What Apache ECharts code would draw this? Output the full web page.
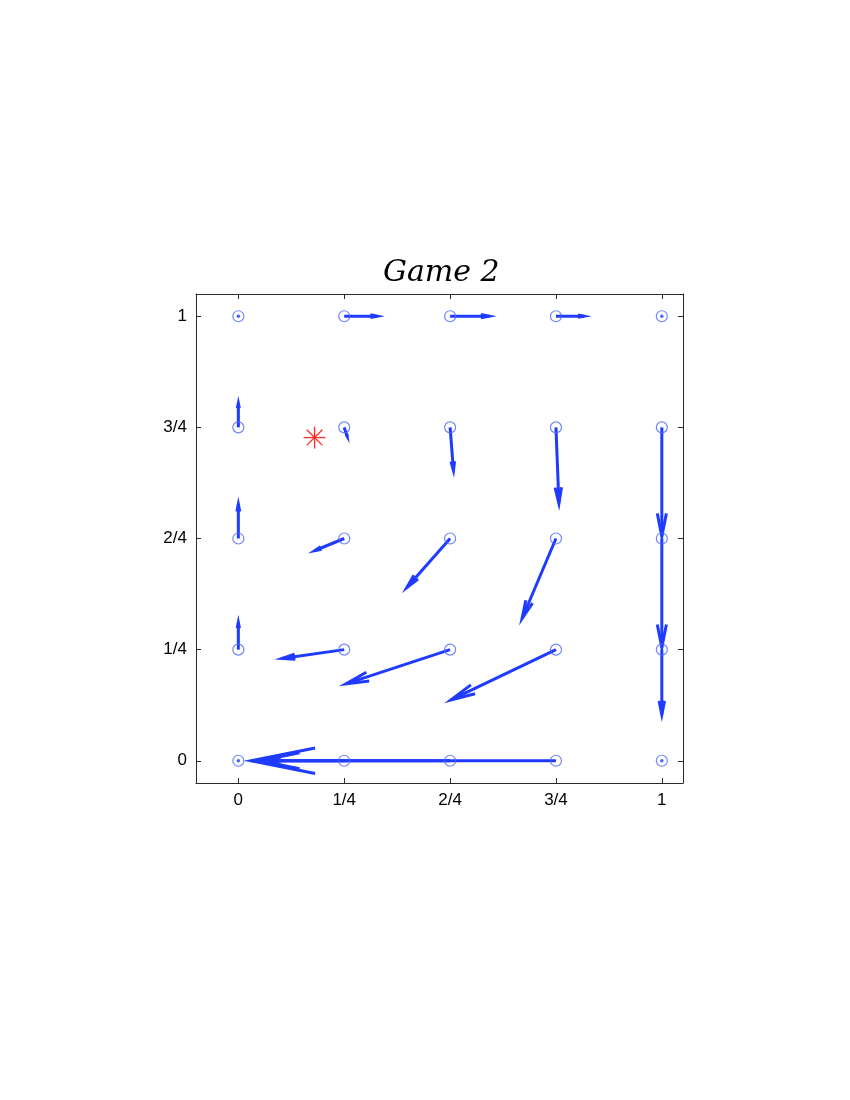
<!DOCTYPE html>
<html>
<head>
<meta charset="utf-8">
<script src="https://cdn.jsdelivr.net/npm/echarts@6/dist/echarts.min.js"></script>
<style>html,body{margin:0;padding:0;background:#fff;}#c{width:850px;height:1100px;}</style>
</head>
<body>
<div id="c"></div>
<script>
// ---- data ----
const tickValues = [0, 0.25, 0.5, 0.75, 1];
const tickLabels = ['0', '1/4', '2/4', '3/4', '1'];
// grid points (row by row, y = 0 .. 1)
const gridX = [0,0.25,0.5,0.75,1, 0,0.25,0.5,0.75,1, 0,0.25,0.5,0.75,1, 0,0.25,0.5,0.75,1, 0,0.25,0.5,0.75,1];
const gridY = [0,0,0,0,0, 0.25,0.25,0.25,0.25,0.25, 0.5,0.5,0.5,0.5,0.5, 0.75,0.75,0.75,0.75,0.75, 1,1,1,1,1];
// vector components at each grid point
const vecU = [0,-0.19,-0.45,-0.72,0,  0,-0.147,-0.246,-0.248,0,  0,-0.069,-0.102,-0.08,0,  0,0.007,0.008,0.007,0,  0,0.078,0.092,0.066,0];
const vecV = [0,0,0,0,0,  0.061,-0.02,-0.077,-0.113,-0.146,  0.077,-0.027,-0.11,-0.18,-0.245,  0.054,-0.02,-0.097,-0.171,-0.245,  0,0,0,0,0];
// equilibrium marker
const starX = [0.18];
const starY = [0.727];

// ---- build ----
const labelMap = {};
tickValues.forEach((v, i) => { labelMap[v] = tickLabels[i]; });

const pts = gridX.map((x, i) => [x, gridY[i]]);
const arrows = [];
const zeros = [];
gridX.forEach((x, i) => {
  if (vecU[i] === 0 && vecV[i] === 0) zeros.push([x, gridY[i]]);
  else arrows.push([x, gridY[i], vecU[i], vecV[i]]);
});
const stars = starX.map((x, i) => [x, starY[i]]);

const BLUE = '#1f3bff';
const CIRC = '#4a66ff';

const chart = echarts.init(document.getElementById('c'), null, {renderer: 'canvas'});

const axCommon = {
  type: 'value',
  splitLine: {show: false},
  axisLine: {show: true, onZero: false, lineStyle: {color: '#2a2a2a', width: 1}},
};

chart.setOption({
  animation: false,
  backgroundColor: '#fff',
  title: {
    text: 'Game 2',
    left: 378,
    top: 253,
    textStyle: {fontFamily: 'DejaVu Serif', fontStyle: 'italic', fontWeight: 'normal', fontSize: 30, color: '#000'}
  },
  grid: {left: 196, right: 167, top: 294, bottom: 317},
  xAxis: [
    Object.assign({}, axCommon, {
      position: 'bottom', min: -0.1, max: 1.05,
      axisTick: {show: true, inside: true, length: 5, customValues: tickValues, lineStyle: {color: '#2a2a2a'}},
      axisLabel: {customValues: tickValues, formatter: v => labelMap[v] !== undefined ? labelMap[v] : '', margin: 9,
        fontFamily: 'Liberation Sans', fontSize: 17, color: '#000'}
    }),
    Object.assign({}, axCommon, {
      position: 'top', min: -0.1, max: 1.05,
      axisTick: {show: true, inside: true, length: 5, customValues: tickValues, lineStyle: {color: '#2a2a2a'}},
      axisLabel: {show: false}
    })
  ],
  yAxis: [
    Object.assign({}, axCommon, {
      position: 'left', min: -0.05, max: 1.05,
      axisTick: {show: true, inside: true, length: 5, customValues: tickValues, lineStyle: {color: '#2a2a2a'}},
      axisLabel: {customValues: tickValues, formatter: v => labelMap[v] !== undefined ? labelMap[v] : '', margin: 9,
        fontFamily: 'Liberation Sans', fontSize: 17, color: '#000'}
    }),
    Object.assign({}, axCommon, {
      position: 'right', min: -0.05, max: 1.05,
      axisTick: {show: true, inside: true, length: 5, customValues: tickValues, lineStyle: {color: '#2a2a2a'}},
      axisLabel: {show: false}
    })
  ],
  series: [
    {
      type: 'custom',
      xAxisIndex: 0, yAxisIndex: 0,
      data: arrows,
      clip: false,
      renderItem: function (params, api) {
        const x = api.value(0), y = api.value(1), u = api.value(2), v = api.value(3);
        const p0 = api.coord([x, y]);
        const p1 = api.coord([x + u, y + v]);
        const dx = p1[0] - p0[0], dy = p1[1] - p0[1];
        const L = Math.sqrt(dx * dx + dy * dy);
        const ex = dx / L, ey = dy / L;
        const nx = -ey, ny = ex;
        const h = 0.21 * L, w = 0.042 * L;
        const b1 = [p1[0] - h * ex + w * nx, p1[1] - h * ey + w * ny];
        const b2 = [p1[0] - h * ex - w * nx, p1[1] - h * ey - w * ny];
        const style = {stroke: BLUE, lineWidth: 3, fill: null, lineJoin: 'miter', lineCap: 'butt'};
        return {
          type: 'group',
          children: [
            {type: 'line', shape: {x1: p0[0], y1: p0[1], x2: p1[0], y2: p1[1]}, style: style},
            {type: 'polyline', shape: {points: [b1, p1, b2]}, style: style}
          ]
        };
      },
      z: 2
    },
    {
      type: 'scatter',
      xAxisIndex: 0, yAxisIndex: 0,
      data: pts,
      symbol: 'circle',
      symbolSize: 11,
      itemStyle: {color: 'rgba(255,255,255,0)', borderColor: CIRC, borderWidth: 1.2},
      z: 3
    },
    {
      type: 'scatter',
      xAxisIndex: 0, yAxisIndex: 0,
      data: zeros,
      symbol: 'circle',
      symbolSize: 3.5,
      itemStyle: {color: BLUE},
      z: 4
    },
    {
      type: 'custom',
      xAxisIndex: 0, yAxisIndex: 0,
      data: stars,
      renderItem: function (params, api) {
        const c = api.coord([api.value(0), api.value(1)]);
        const r = 11;
        const children = [];
        for (let k = 0; k < 4; k++) {
          const a = k * Math.PI / 4;
          children.push({type: 'line', shape: {
            x1: c[0] - r * Math.cos(a), y1: c[1] - r * Math.sin(a),
            x2: c[0] + r * Math.cos(a), y2: c[1] + r * Math.sin(a)},
            style: {stroke: '#ff2a2a', lineWidth: 1.3}});
        }
        return {type: 'group', children: children};
      },
      z: 5
    }
  ]
});
</script>
</body>
</html>
